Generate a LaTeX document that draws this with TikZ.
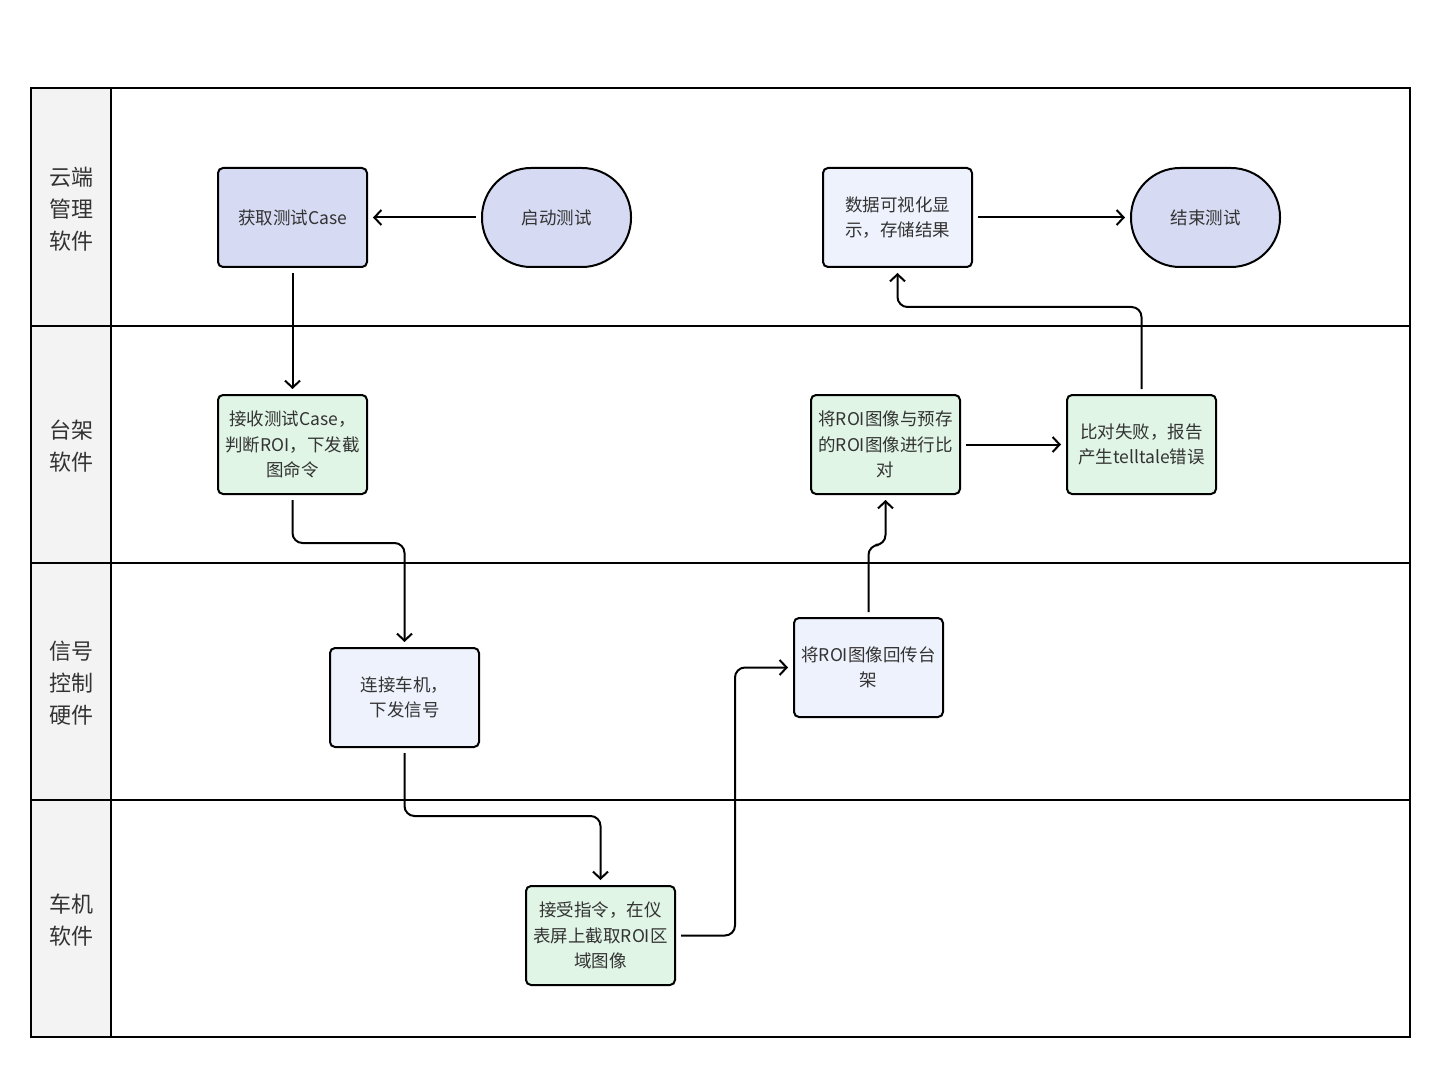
\documentclass[tikz,border=0pt]{standalone}
\usepackage{fontspec}
\setmainfont{Noto Sans CJK SC}
\usetikzlibrary{arrows.meta}
\definecolor{lav}{HTML}{D6DBF3}
\definecolor{pale}{HTML}{EEF2FC}
\definecolor{mint}{HTML}{E0F5E5}
\definecolor{lanegray}{HTML}{F3F3F3}
\definecolor{txt}{HTML}{333333}
\tikzset{
  box/.style={draw=black, line width=2pt, rounded corners=5pt, minimum width=149pt, minimum height=99pt, align=center, text=txt, font=\fontsize{17.5}{25.5}\selectfont, inner sep=2pt},
  stadium/.style={box, rounded corners=49pt, fill=lav},
  lavbox/.style={box, fill=lav},
  palebox/.style={box, fill=pale},
  mintbox/.style={box, fill=mint},
  lanelabel/.style={align=center, text=txt, font=\fontsize{22}{32}\selectfont},
  conn/.style={draw=black, line width=2pt, rounded corners=10pt, shorten >=5pt, shorten <=5pt, -{Straight Barb[length=7pt,width=15pt]}},
}
\begin{document}
\begin{tikzpicture}[x=1pt,y=-1pt]
\useasboundingbox (0,0) rectangle (1440,1067);
% swimlanes
\fill[white] (0,0) rectangle (1440,1067);
\fill[lanegray] (31,88) rectangle (111,1037);
\draw[line width=2pt] (31,88) rectangle (1410,1037);
\draw[line width=2pt] (111,88) -- (111,1037);
\draw[line width=2pt] (31,326) -- (1410,326);
\draw[line width=2pt] (31,563) -- (1410,563);
\draw[line width=2pt] (31,800) -- (1410,800);
\node[lanelabel] (l1) at (71,209) {云端\\管理\\软件};
\node[lanelabel] (l2) at (71,446) {台架\\软件};
\node[lanelabel] (l3) at (71,683) {信号\\控制\\硬件};
\node[lanelabel] (l4) at (71,920) {车机\\软件};
% nodes
\node[lavbox] (get) at (292.5,217.5) {获取测试Case};
\node[stadium] (start) at (556.5,217.5) {启动测试};
\node[palebox] (data) at (897.5,217.5) {数据可视化显\\示，存储结果};
\node[stadium] (end) at (1205.5,217.5) {结束测试};
\node[mintbox] (recv) at (292.5,444.5) {接收测试Case，\\判断ROI，下发截\\图命令};
\node[mintbox] (cmp) at (885.5,444.5) {将ROI图像与预存\\的ROI图像进行比\\对};
\node[mintbox] (fail) at (1141.5,444.5) {比对失败，报告\\产生telltale错误};
\node[palebox] (conn) at (404.5,697.5) {连接车机，\\下发信号};
\node[palebox] (back) at (868.5,667.5) {将ROI图像回传台\\架};
\node[mintbox] (acc) at (600.5,935.5) {接受指令，在仪\\表屏上截取ROI区\\域图像};
% connectors
\coordinate (c3) at (735,667.5);
\draw[conn] (start) -- (get);
\draw[conn] (get.south) -- (recv.north);
\draw[conn] (recv.south) -- (recv.south |- 0,543) -| (conn.north);
\draw[conn] (conn.south) -- (conn.south |- 0,816) -| (acc.north);
\draw[conn] (acc.east) -| (c3) -- (back.west);
\draw[conn] (back.north) -- (back.north |- 0,545) -| (cmp.south);
\draw[conn] (cmp) -- (fail);
\draw[conn] (fail.north) -- (fail.north |- 0,307) -| (data.south);
\draw[conn] (data) -- (end);
\end{tikzpicture}
\end{document}
